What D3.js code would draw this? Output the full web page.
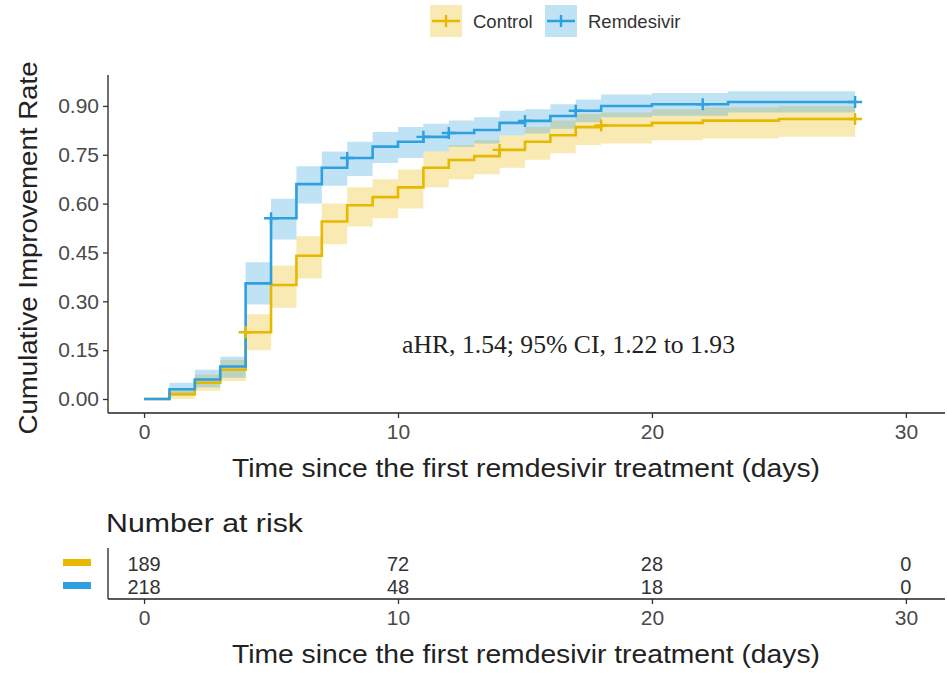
<!DOCTYPE html>
<html>
<head>
<meta charset="utf-8">
<script src="https://cdn.jsdelivr.net/npm/d3@7"></script>
<style>
  body { margin: 0; background: #fff; }
  svg text { font-family: "Liberation Sans", Arial, sans-serif; }
</style>
</head>
<body>
<svg width="947" height="673"></svg>
<script>
// control arm (gold)
var ctrlTime  = [0, 1, 2, 3, 4, 5, 6, 7, 8, 9, 10, 11, 12, 13, 14, 15, 16, 17, 18, 20, 22, 25, 28];
var ctrlRate  = [0, 0.015, 0.05, 0.09, 0.205, 0.35, 0.44, 0.545, 0.595, 0.62, 0.65, 0.71, 0.734, 0.746, 0.765, 0.79, 0.81, 0.835, 0.84, 0.848, 0.855, 0.86, 0.86];
var ctrlLower = [0, 0, 0.025, 0.055, 0.15, 0.28, 0.37, 0.475, 0.53, 0.555, 0.585, 0.65, 0.675, 0.69, 0.71, 0.735, 0.755, 0.78, 0.785, 0.795, 0.80, 0.805, 0.805];
var ctrlUpper = [0, 0.03, 0.075, 0.12, 0.26, 0.41, 0.50, 0.60, 0.65, 0.675, 0.705, 0.76, 0.78, 0.795, 0.81, 0.835, 0.855, 0.875, 0.88, 0.89, 0.895, 0.90, 0.90];
var ctrlCensor = [4, 14, 18, 28];

// remdesivir arm (blue)
var remTime  = [0, 1, 2, 3, 4, 5, 6, 7, 8, 9, 10, 11, 12, 13, 14, 15, 16, 17, 18, 20, 23, 28];
var remRate  = [0, 0.03, 0.06, 0.10, 0.355, 0.555, 0.66, 0.71, 0.74, 0.775, 0.79, 0.805, 0.817, 0.826, 0.848, 0.854, 0.869, 0.885, 0.90, 0.905, 0.912, 0.912];
var remLower = [0, 0.01, 0.035, 0.065, 0.29, 0.49, 0.60, 0.655, 0.685, 0.725, 0.74, 0.76, 0.775, 0.785, 0.81, 0.815, 0.83, 0.85, 0.865, 0.87, 0.88, 0.88];
var remUpper = [0, 0.05, 0.09, 0.13, 0.42, 0.615, 0.715, 0.76, 0.79, 0.82, 0.835, 0.845, 0.855, 0.865, 0.885, 0.89, 0.905, 0.92, 0.935, 0.94, 0.945, 0.945];
var remCensor = [5, 8, 11, 12, 15, 17, 22, 28];

var yTicks = [0, 0.15, 0.30, 0.45, 0.60, 0.75, 0.90];
var xTicks = [0, 10, 20, 30];

var riskTimes = [0, 10, 20, 30];
var ctrlRisk = [189, 72, 28, 0];
var remRisk = [218, 48, 18, 0];

var gold = "#E7B800", blue = "#2E9FDF";
var xTitle = "Time since the first remdesivir treatment (days)";

var svg = d3.select("svg");

var x = d3.scaleLinear().domain([-1.42, 31.54]).range([108, 945]);
var y = d3.scaleLinear().domain([-0.043, 0.995]).range([413, 75]);

function pack(t, v, lo, hi) {
	return t.map(function(d, i){ return {t: d, v: v[i], lo: lo[i], hi: hi[i]}; });
}
function valueAt(data, t) {
	var v = 0;
	data.forEach(function(d){ if (d.t <= t) v = d.v; });
	return v;
}

var groups = [
	{name: "Control", color: gold, data: pack(ctrlTime, ctrlRate, ctrlLower, ctrlUpper), censor: ctrlCensor},
	{name: "Remdesivir", color: blue, data: pack(remTime, remRate, remLower, remUpper), censor: remCensor}
];

var band = d3.area().curve(d3.curveStepAfter)
	.x(function(d){ return x(d.t); })
	.y0(function(d){ return y(d.lo); })
	.y1(function(d){ return y(d.hi); });
var line = d3.line().curve(d3.curveStepAfter)
	.x(function(d){ return x(d.t); })
	.y(function(d){ return y(d.v); });

svg.selectAll("path.band")
	.data(groups)
	.enter()
	.append("path")
	.attr("class", "band")
	.attr("d", function(g){ return band(g.data); })
	.style("fill", function(g){ return g.color; })
	.style("opacity", 0.3);

svg.selectAll("path.curve")
	.data(groups)
	.enter()
	.append("path")
	.attr("class", "curve")
	.attr("d", function(g){ return line(g.data); })
	.style("fill", "none")
	.style("stroke", function(g){ return g.color; })
	.style("stroke-width", 2.6);

// censor marks
groups.forEach(function(g){
	svg.selectAll(null)
		.data(g.censor)
		.enter()
		.append("path")
		.attr("d", function(t){
			var cx = x(t), cy = y(valueAt(g.data, t));
			return "M" + (cx - 7) + "," + cy + "H" + (cx + 7) + "M" + cx + "," + (cy - 6) + "V" + (cy + 6);
		})
		.style("stroke", g.color)
		.style("stroke-width", 2.4);
});

// axes
function styleAxis(a, domainPath) {
	a.select(".domain").attr("d", domainPath).style("stroke", "#222").style("stroke-width", 1.3);
	a.selectAll(".tick line").style("stroke", "#333").style("stroke-width", 1.3);
	a.selectAll(".tick text").style("font-size", "21px").style("fill", "#4a4a4a").style("font-family", "Liberation Sans, Arial, sans-serif");
}
var yAxis = svg.append("g").attr("transform", "translate(108,0)")
	.call(d3.axisLeft(y).tickValues(yTicks).tickFormat(d3.format(".2f")).tickSize(5).tickPadding(4));
styleAxis(yAxis, "M0,75V413");
var xAxis = svg.append("g").attr("transform", "translate(0,413)")
	.call(d3.axisBottom(x).tickValues(xTicks).tickSize(5).tickPadding(6));
styleAxis(xAxis, "M108,0H945");

svg.append("text")
	.attr("transform", "translate(37,248) rotate(-90)")
	.attr("text-anchor", "middle")
	.attr("textLength", 373).attr("lengthAdjust", "spacingAndGlyphs")
	.style("font-size", "26px").style("fill", "#222")
	.text("Cumulative Improvement Rate");

svg.append("text")
	.attr("x", 526).attr("y", 477)
	.attr("text-anchor", "middle")
	.attr("textLength", 588).attr("lengthAdjust", "spacingAndGlyphs")
	.style("font-size", "26px").style("fill", "#222")
	.text(xTitle);

svg.append("text")
	.attr("x", 402).attr("y", 353)
	.attr("textLength", 333).attr("lengthAdjust", "spacingAndGlyphs")
	.style("font-family", "Liberation Serif, Times New Roman, serif")
	.style("font-size", "25px").style("fill", "#222")
	.text("aHR, 1.54; 95% CI, 1.22 to 1.93");

// legend
var leg = svg.selectAll("g.leg")
	.data(groups)
	.enter()
	.append("g")
	.attr("class", "leg")
	.attr("transform", function(g, i){ return "translate(" + [430, 545][i] + ",5)"; });
leg.append("rect").attr("width", 32).attr("height", 32)
	.style("fill", function(g){ return g.color; }).style("opacity", 0.3);
leg.append("path").attr("d", "M2,16H30M16,10V22")
	.style("stroke", function(g){ return g.color; }).style("stroke-width", 2.4);
leg.append("text").attr("x", 43).attr("y", 23)
	.style("font-size", "18.5px").style("fill", "#333")
	.text(function(g){ return g.name; });

// risk table
svg.append("text")
	.attr("x", 106).attr("y", 532)
	.attr("textLength", 197).attr("lengthAdjust", "spacingAndGlyphs")
	.style("font-size", "26px").style("fill", "#222")
	.text("Number at risk");

var riskAxis = svg.append("g").attr("transform", "translate(0,599)")
	.call(d3.axisBottom(x).tickValues(xTicks).tickSize(5).tickPadding(6));
styleAxis(riskAxis, "M108,0H945");
svg.append("line").attr("x1", 108).attr("x2", 108).attr("y1", 548).attr("y2", 599)
	.style("stroke", "#222").style("stroke-width", 1.3);

[ctrlRisk, remRisk].forEach(function(row, r){
	var rowY = [563, 586][r];
	svg.append("rect").attr("x", 63).attr("y", rowY - 4).attr("width", 28).attr("height", 7)
		.style("fill", groups[r].color);
	svg.selectAll(null)
		.data(row)
		.enter()
		.append("text")
		.attr("transform", function(d, i){ return "translate(" + x(riskTimes[i]) + "," + (rowY + 8) + ") scale(1.08,1.12)"; })
		.attr("text-anchor", "middle")
		.style("font-size", "18.5px").style("fill", "#333")
		.text(function(d){ return d; });
});

svg.append("text")
	.attr("x", 526).attr("y", 663)
	.attr("text-anchor", "middle")
	.attr("textLength", 588).attr("lengthAdjust", "spacingAndGlyphs")
	.style("font-size", "26px").style("fill", "#222")
	.text(xTitle);
</script>
</body>
</html>
